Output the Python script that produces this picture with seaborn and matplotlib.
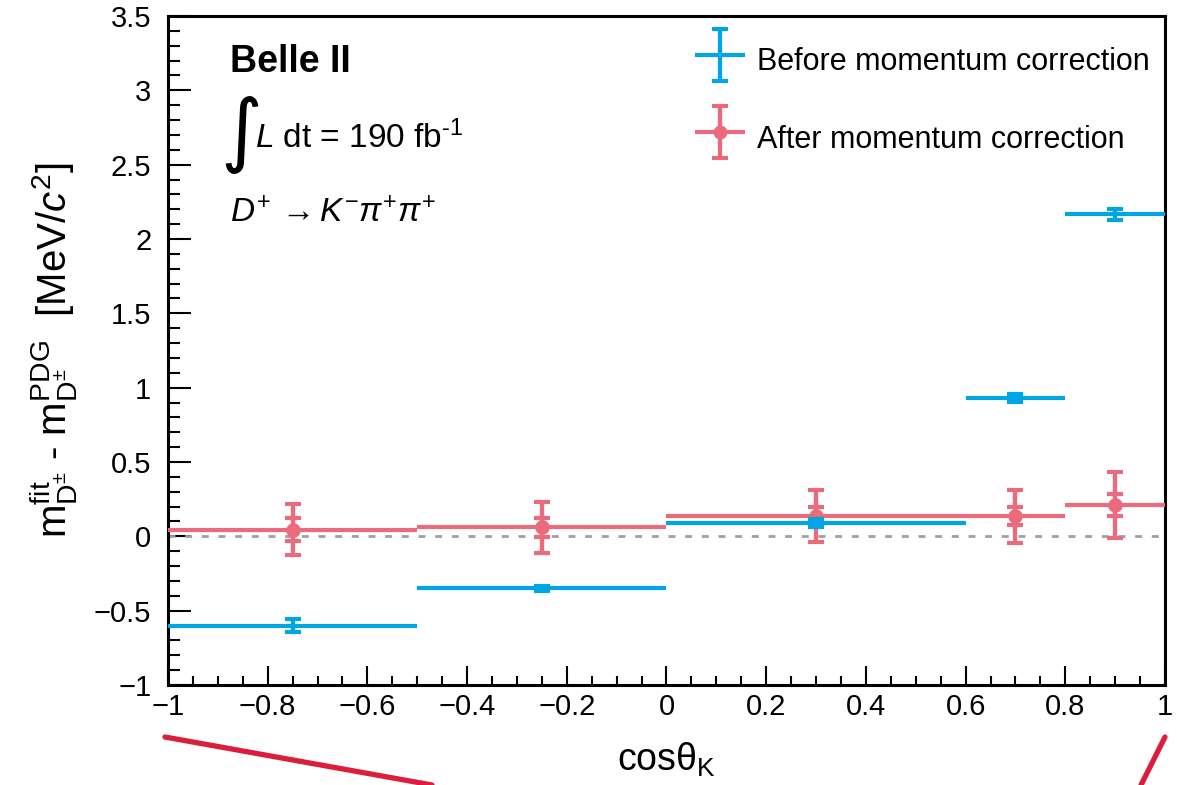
import numpy as np
import matplotlib
matplotlib.use("Agg")
import matplotlib.pyplot as plt
import seaborn as sns
from matplotlib.ticker import MultipleLocator, FuncFormatter
from matplotlib.legend_handler import HandlerErrorbar, HandlerTuple
from matplotlib.container import ErrorbarContainer
from matplotlib.lines import Line2D

# ---------------- data ----------------
bin_edges = [-1.0, -0.5, 0.0, 0.6, 0.8, 1.0]
bin_centers = [-0.75, -0.25, 0.3, 0.7, 0.9]
before_vals = [-0.60, -0.35, 0.09, 0.93, 2.165]
before_err = [0.045, 0.017, 0.024, 0.027, 0.035]
after_vals = [0.045, 0.06, 0.14, 0.135, 0.21]
after_stat = [0.075, 0.065, 0.06, 0.062, 0.075]
after_total = [0.17, 0.17, 0.175, 0.18, 0.22]
labels = ["Before momentum correction", "After momentum correction"]

# ---------------- style ----------------
sns.set_theme(style="ticks")
plt.rcParams["font.family"] = ["Liberation Sans", "DejaVu Sans"]
plt.rcParams["mathtext.fontset"] = "custom"
plt.rcParams["mathtext.rm"] = "Liberation Sans"
plt.rcParams["mathtext.it"] = "Liberation Sans:italic"
plt.rcParams["mathtext.bf"] = "Liberation Sans:bold"
plt.rcParams["axes.unicode_minus"] = True
plt.rcParams["text.color"] = "black"
plt.rcParams["axes.labelcolor"] = "black"

blue = "#00a5e3"
pink = "#eb6b7c"

fig = plt.figure(figsize=(11.77, 7.85), dpi=100)
ax = fig.add_axes([0.1427, 0.1274, 0.8471, 0.8522])

centers = np.array(bin_centers)
edges = np.array(bin_edges)
xlo = centers - edges[:-1]
xhi = edges[1:] - centers

lw = 3.0
cap = 5.5
# after: total errors with horizontal bin widths
ax.errorbar(centers, after_vals, xerr=[xlo, xhi], yerr=after_total,
            fmt="none", ecolor=pink, elinewidth=lw, capsize=0, zorder=3)
ax.errorbar(centers, after_vals, yerr=after_total, fmt="none",
            ecolor=pink, elinewidth=lw, capsize=cap, capthick=lw, zorder=3)
ax.errorbar(centers, after_vals, yerr=after_stat, fmt="none",
            ecolor=pink, elinewidth=lw, capsize=cap, capthick=lw, zorder=3)
sns.scatterplot(x=bin_centers, y=after_vals, color=pink, s=110, marker="o",
                edgecolor=pink, linewidth=0, ax=ax, zorder=4, legend=False)

# before
ax.errorbar(centers, before_vals, xerr=[xlo, xhi], yerr=before_err,
            fmt="none", ecolor=blue, elinewidth=lw, capsize=0, zorder=5)
ax.errorbar(centers, before_vals, yerr=before_err, fmt="none",
            ecolor=blue, elinewidth=lw, capsize=cap, capthick=lw, zorder=5)

ax.axhline(0, color="#a0a0a0", lw=2, ls=(0, (2.5, 3.5)), zorder=2)

# legend proxies (placed outside the visible range)
px, py = [50.0], [50.0]
leg_before_h = ax.errorbar(px, py, xerr=0.1, yerr=0.1, fmt="none", ecolor=blue,
                           elinewidth=lw, capsize=0)
leg_before_v = ax.errorbar(px, py, yerr=0.1, fmt="none", ecolor=blue,
                           elinewidth=lw, capsize=cap, capthick=lw)
leg_after_h = ax.errorbar(px, py, xerr=0.1, yerr=0.1, fmt="o", color=pink, ms=9,
                          ecolor=pink, elinewidth=lw, capsize=0)
leg_after_v = ax.errorbar(px, py, yerr=0.1, fmt="none", ecolor=pink,
                          elinewidth=lw, capsize=cap, capthick=lw)

leg = ax.legend([(leg_before_h, leg_before_v), (leg_after_h, leg_after_v)], labels,
                handler_map={ErrorbarContainer: HandlerErrorbar(xerr_size=0.82, yerr_size=0.85),
                             tuple: HandlerTuple(ndivide=1)},
                loc="upper left", bbox_to_anchor=(0.580, 0.965), bbox_transform=fig.transFigure,
                frameon=False, fontsize=22, handlelength=1.63, handleheight=1.7,
                labelspacing=1.18, handletextpad=0.4, borderaxespad=0)
for t in leg.get_texts():
    t.set_color("black")

# ---------------- axes ----------------
ax.set_xlim(-1, 1)
ax.set_ylim(-1, 3.5)
ax.xaxis.set_major_locator(MultipleLocator(0.2))
ax.xaxis.set_minor_locator(MultipleLocator(0.05))
ax.yaxis.set_major_locator(MultipleLocator(0.5))
ax.yaxis.set_minor_locator(MultipleLocator(0.1))
fmt = FuncFormatter(lambda v, p: ("%g" % round(v, 3)).replace("-", "\u2212"))
ax.xaxis.set_major_formatter(fmt)
ax.yaxis.set_major_formatter(fmt)
ax.tick_params(axis="both", which="both", direction="in", colors="black",
               width=1.5, labelsize=21, top=False, right=False)
ax.tick_params(axis="x", which="major", length=14, pad=6)
ax.tick_params(axis="x", which="minor", length=6.5)
ax.tick_params(axis="y", which="major", length=16.5, pad=12)
ax.tick_params(axis="y", which="minor", length=8.5)
for s in ax.spines.values():
    s.set_linewidth(2.2)
    s.set_color("black")
    s.set_visible(True)

ax.set_xlabel("cosθ$_{\\mathrm{K}}$", fontsize=27, labelpad=14, color="black")
ax.set_ylabel(r"$\mathrm{m^{fit}_{D^{\pm}}}$ - $\mathrm{m^{PDG}_{D^{\pm}}}$  [MeV/$c^{2}$]",
              fontsize=29, labelpad=10, color="black")

# ---------------- annotations ----------------
ax.text(0.0625, 0.916, "Belle II", transform=ax.transAxes, fontsize=27,
        fontweight="bold", va="baseline", ha="left", color="black")
ax.text(0.053, 0.822, "\u222b", transform=ax.transAxes, fontsize=58,
        family=["DejaVu Sans"], va="center", ha="left", color="black")
ax.text(0.087, 0.803, "$L$ dt = 190 fb$^{\u2010\\mathrm{1}}$", transform=ax.transAxes,
        fontsize=24, va="baseline", ha="left", color="black")
ax.text(0.062, 0.692, r"$D^{+}\,\rightarrow K^{-}\pi^{+}\pi^{+}$", transform=ax.transAxes,
        fontsize=24, va="baseline", ha="left", color="black")

# red zoom-indicator lines below the axis
red = "#dc1e3c"
fig.add_artist(Line2D([165 / 1177, 432 / 1177], [1 - 737 / 785, 0.0],
                      transform=fig.transFigure, color=red, lw=3.8))
fig.add_artist(Line2D([1165 / 1177, 1141 / 1177], [1 - 737 / 785, 0.0],
                      transform=fig.transFigure, color=red, lw=3.8))

fig.savefig("out.png", dpi=100)
